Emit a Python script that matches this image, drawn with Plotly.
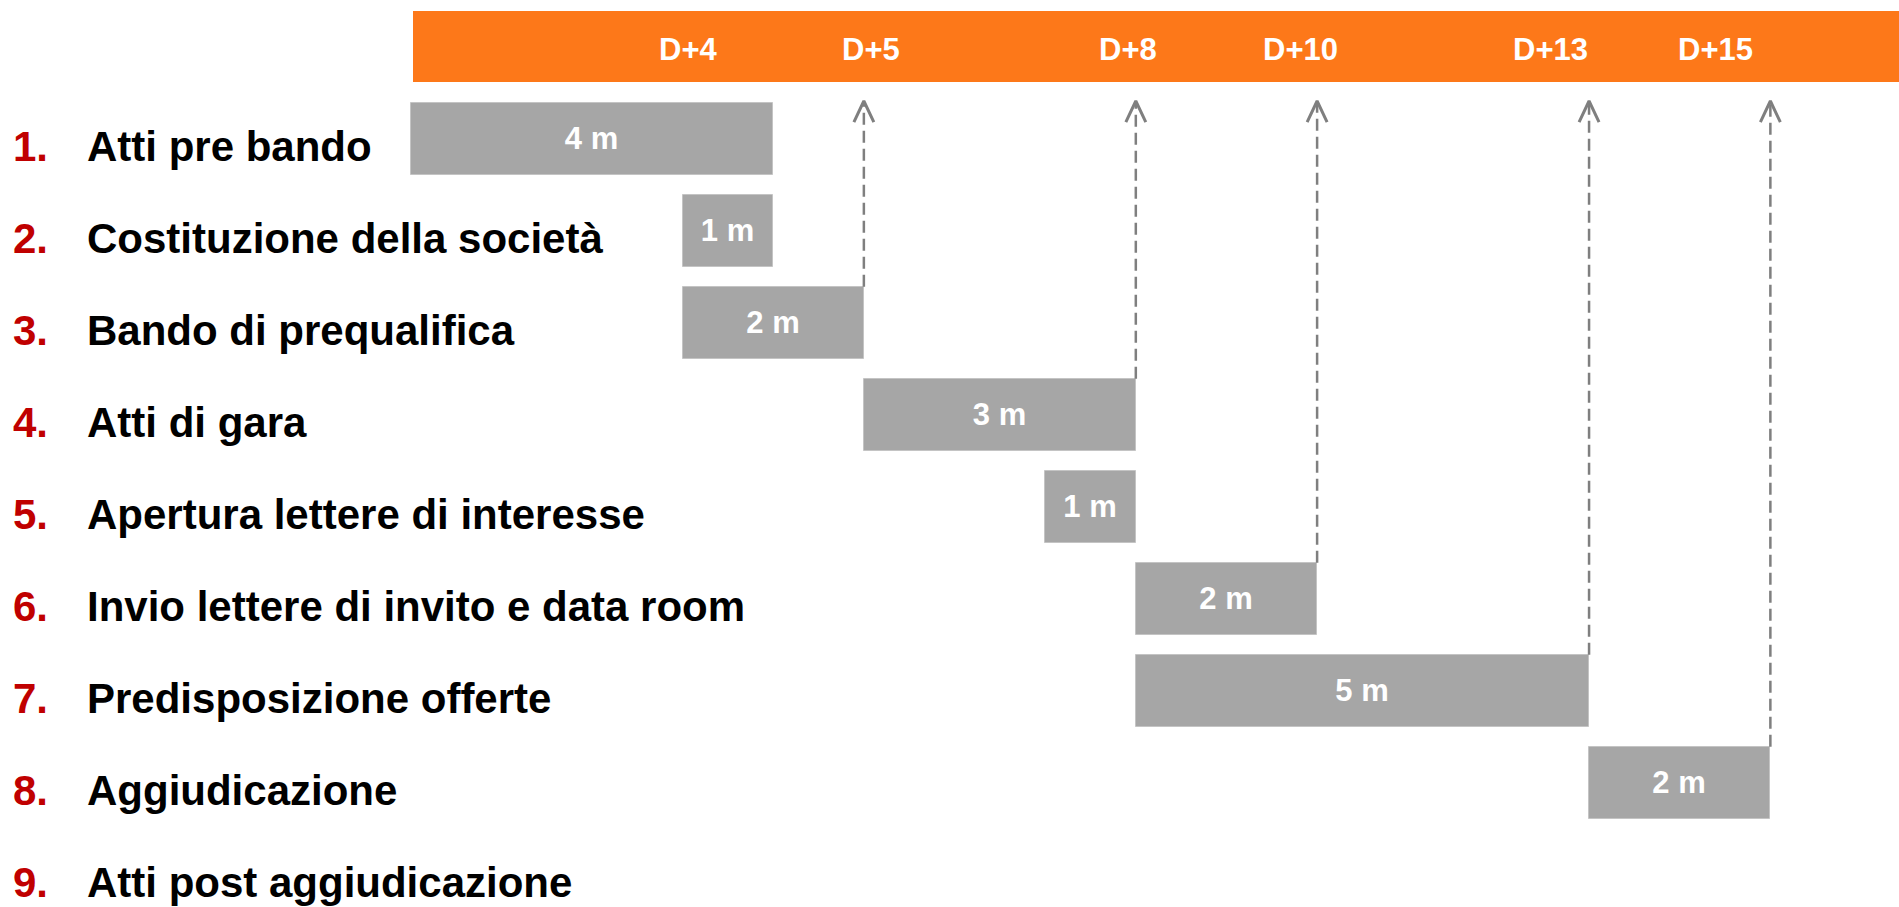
import plotly.graph_objects as go

# ---------------- data ----------------
tasks = [
    "Atti pre bando",
    "Costituzione della società",
    "Bando di prequalifica",
    "Atti di gara",
    "Apertura lettere di interesse",
    "Invio lettere di invito e data room",
    "Predisposizione offerte",
    "Aggiudicazione",
    "Atti post aggiudicazione",
]
start_month = [0, 3, 3, 5, 7, 8, 8, 13]
duration_month = [4, 1, 2, 3, 1, 2, 5, 2]
bar_labels = ["4 m", "1 m", "2 m", "3 m", "1 m", "2 m", "5 m", "2 m"]

milestone_labels = ["D+4", "D+5", "D+8", "D+10", "D+13", "D+15"]
milestone_label_pos = [3.06, 5.08, 7.91, 9.82, 12.58, 14.40]

# tasks whose end is marked with a dashed arrow up to the timeline
arrow_from_task = [2, 3, 5, 6, 7]

# ---------------- style ----------------
FONT = "Arial, 'Liberation Sans', sans-serif"
BAR_COLOR = "#A6A6A6"
ORANGE = "#FD7819"
RED = "#C00000"
GREY = "#7F7F7F"
BAR_W = 0.79

X_RANGE = [-4.5295, 16.419]
Y_RANGE = [8.3478, -1.5109]

fig = go.Figure()

rows = list(range(len(duration_month)))
fig.add_trace(go.Bar(
    orientation="h",
    y=rows,
    x=duration_month,
    base=start_month,
    width=BAR_W,
    marker=dict(color=BAR_COLOR, line=dict(color="#C4C4C4", width=1)),
    text=[f"<b>{t}</b>" for t in bar_labels],
    textposition="inside",
    insidetextanchor="middle",
    constraintext="none",
    textfont=dict(family=FONT, size=31, color="white"),
    hoverinfo="skip",
))

# dashed lines + open arrowheads
tip_y = -0.413
head_h = 0.23
head_dx = 0.11
for t in arrow_from_task:
    xm = start_month[t] + duration_month[t]
    y_top = t - BAR_W / 2
    fig.add_trace(go.Scatter(
        x=[xm, xm], y=[y_top, tip_y + 0.02], mode="lines",
        line=dict(color=GREY, width=2.5, dash="12px,6px"),
        hoverinfo="skip",
    ))
    fig.add_trace(go.Scatter(
        x=[xm - head_dx, xm, xm + head_dx],
        y=[tip_y + head_h, tip_y, tip_y + head_h],
        mode="lines",
        line=dict(color=GREY, width=3),
        hoverinfo="skip",
    ))

shapes = [dict(
    type="rect", xref="paper", yref="paper",
    x0=413 / 1899, x1=1.0, y0=1 - 82 / 907, y1=1 - 11 / 907,
    fillcolor=ORANGE, line=dict(width=0), layer="below",
)]

annotations = []
for lab, pos in zip(milestone_labels, milestone_label_pos):
    annotations.append(dict(
        x=pos, y=1 - 49 / 907, xref="x", yref="paper",
        text=f"<b>{lab}</b>", showarrow=False,
        xanchor="center", yanchor="middle",
        font=dict(family=FONT, size=31, color="white"),
    ))

for i, name in enumerate(tasks):
    annotations.append(dict(
        x=11 / 1899, y=i, xref="paper", yref="y",
        text=f"<b>{i + 1}.</b>", showarrow=False,
        xanchor="left", yanchor="middle", yshift=-7.5,
        font=dict(family=FONT, size=42, color=RED),
    ))
    annotations.append(dict(
        x=85 / 1899, y=i, xref="paper", yref="y",
        text=f"<b>{name}</b>", showarrow=False,
        xanchor="left", yanchor="middle", yshift=-7.5,
        font=dict(family=FONT, size=42, color="black"),
    ))

fig.update_layout(
    width=1899, height=907,
    margin=dict(l=0, r=0, t=0, b=0),
    paper_bgcolor="white", plot_bgcolor="white",
    showlegend=False,
    xaxis=dict(range=X_RANGE, visible=False, fixedrange=True),
    yaxis=dict(range=Y_RANGE, visible=False, fixedrange=True),
    shapes=shapes,
    annotations=annotations,
    bargap=0,
)

fig.write_html("out.html", config={"displayModeBar": False})
